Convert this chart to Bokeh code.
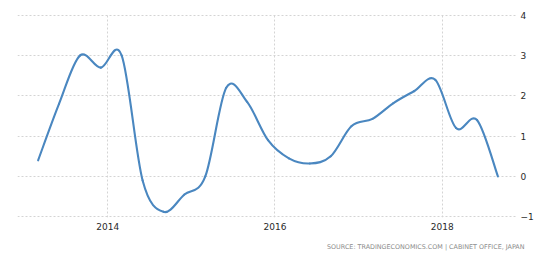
import numpy as np
from bokeh.plotting import figure
from bokeh.models import Range1d, FixedTicker, Title
from bokeh.embed import file_html
from bokeh.resources import INLINE

# ---- data ----
quarters = ["2013-03", "2013-06", "2013-09", "2013-12",
            "2014-03", "2014-06", "2014-09", "2014-12",
            "2015-03", "2015-06", "2015-09", "2015-12",
            "2016-03", "2016-06", "2016-09", "2016-12",
            "2017-03", "2017-06", "2017-09", "2017-12",
            "2018-03", "2018-06", "2018-09"]
gdp_growth = [0.4, 1.8, 3.0, 2.7,
              3.0, -0.1, -0.88, -0.45,
              0.0, 2.2, 1.85, 0.9,
              0.45, 0.32, 0.5, 1.25,
              1.43, 1.82, 2.12, 2.4,
              1.2, 1.4, 0.0]
x_ticks = [2014, 2016, 2018]
y_ticks = [-1, 0, 1, 2, 3, 4]
source_text = "SOURCE: TRADINGECONOMICS.COM | CABINET OFFICE, JAPAN"

# decimal-year positions of the quarters
xs = np.array([int(q[:4]) + (int(q[5:]) - 1) / 12.0 for q in quarters])
ys = np.array(gdp_growth, dtype=float)

# smooth curve (cardinal / Catmull-Rom spline) as cubic bezier segments
n = len(xs)
x0, y0, x1, y1, cx0, cy0, cx1, cy1 = ([] for _ in range(8))
for i in range(n - 1):
    a = i - 1 if i > 0 else i
    d = i + 2 if i + 2 < n else i + 1
    x0.append(xs[i]); y0.append(ys[i])
    x1.append(xs[i + 1]); y1.append(ys[i + 1])
    cx0.append(xs[i] + (xs[i + 1] - xs[a]) / 6.0)
    cy0.append(ys[i] + (ys[i + 1] - ys[a]) / 6.0)
    cx1.append(xs[i + 1] - (xs[d] - xs[i]) / 6.0)
    cy1.append(ys[i + 1] - (ys[d] - ys[i]) / 6.0)

p = figure(width=558, height=260, output_backend="svg", toolbar_location=None,
           x_range=Range1d(2012.920, 2018.901), y_range=Range1d(-1.02, 4.02),
           y_axis_location="right",
           min_border_left=17, min_border_right=41,
           min_border_top=14, min_border_bottom=43)
p.outline_line_color = None
p.background_fill_color = "white"
p.border_fill_color = "white"

p.bezier(x0=x0, y0=y0, x1=x1, y1=y1, cx0=cx0, cy0=cy0, cx1=cx1, cy1=cy1,
         line_color="#4a87c0", line_width=2.1, line_cap="round")

# grids
p.xgrid.ticker = FixedTicker(ticks=x_ticks)
p.ygrid.ticker = FixedTicker(ticks=y_ticks)
for g in (p.xgrid, p.ygrid):
    g.grid_line_color = "#d4d4d4"
    g.grid_line_dash = "2 2"
    g.grid_line_width = 1

# axes
p.xaxis.ticker = FixedTicker(ticks=x_ticks)
p.yaxis.ticker = FixedTicker(ticks=y_ticks)
for ax in (p.xaxis, p.yaxis):
    ax.axis_line_color = None
    ax.major_tick_line_color = None
    ax.minor_tick_line_color = None
    ax.major_tick_out = 0
    ax.major_tick_in = 0
    ax.major_label_text_font = "DejaVu Sans"
    ax.major_label_text_font_size = "9px"
    ax.major_label_text_color = "#2a2a2a"
p.xaxis.major_label_standoff = 5
p.yaxis.major_label_standoff = 3

src = Title(text=source_text, align="right", offset=-7, standoff=16,
            text_font="DejaVu Sans", text_font_size="6.4px",
            text_font_style="normal", text_color="#8c8c8c")
p.add_layout(src, "below")

open("out.html", "w").write(file_html(p, INLINE))
